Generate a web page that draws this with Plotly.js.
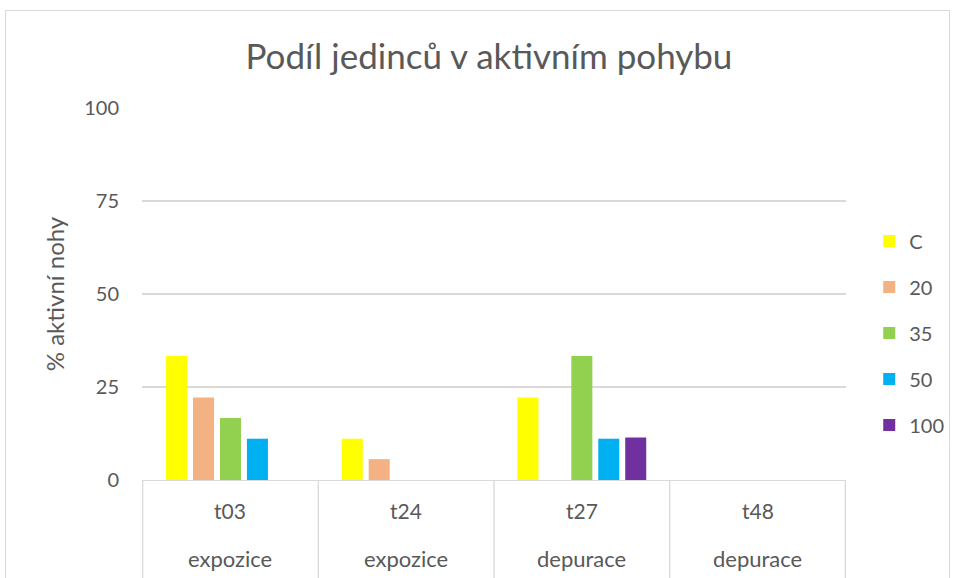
<!DOCTYPE html>
<html><head><meta charset="utf-8">
<script src="https://cdn.plot.ly/plotly-3.0.1.min.js"></script>
<style>
html,body{margin:0;padding:0;background:#fff;}
#frame{position:absolute;left:5px;top:10px;width:945px;height:580px;border:1px solid #d9d9d9;box-sizing:border-box;}
#chart{position:absolute;left:0;top:0;width:955px;height:578px;}
</style></head>
<body>
<div id="frame"></div>
<div id="chart"></div>
<script>
const timepoints = ["t03", "t24", "t27", "t48"];
const phases = ["expozice", "expozice", "depurace", "depurace"];
const seriesNames = ["C", "20", "35", "50", "100"];
const valC   = [33.3, 11.1, 22.2, 0];
const val20  = [22.2, 5.6, 0, 0];
const val35  = [16.7, 0, 33.3, 0];
const val50  = [11.1, 0, 11.1, 0];
const val100 = [0, 0, 11.4, 0];
const colors = ["#ffff00", "#f4b183", "#92d050", "#00b0f0", "#7030a0"];
const yTicks = [0, 25, 50, 75, 100];

const values = [valC, val20, val35, val50, val100];
const font = "Lato, 'Open Sans', sans-serif";
const txt = "#595959";

const traces = seriesNames.map((n, i) => ({
  type: "bar", name: n, x: timepoints, y: values[i],
  marker: {color: colors[i]}, legendgroup: "g" + i
}));

const shapes = [];
for (let k = 0; k <= timepoints.length; k++) {
  shapes.push({type: "line", xref: "x", yref: "paper", x0: k - 0.5, x1: k - 0.5,
    y0: 0, y1: -0.28, line: {color: "#d9d9d9", width: 1.3}});
}

const annotations = [];
timepoints.forEach((t, i) => {
  annotations.push({xref: "x", yref: "paper", x: t, y: -0.083, yanchor: "middle", showarrow: false,
    text: t, font: {size: 21, color: txt, family: font}});
  annotations.push({xref: "x", yref: "paper", x: t, y: -0.21, yanchor: "middle", showarrow: false,
    text: phases[i], font: {size: 22, color: txt, family: font}});
});

const layout = {
  width: 955, height: 578,
  margin: {l: 142, r: 109, t: 108, b: 98, autoexpand: false},
  paper_bgcolor: "rgba(0,0,0,0)", plot_bgcolor: "rgba(0,0,0,0)",
  font: {family: font, color: txt},
  title: {text: "Podíl jedinců v aktivním pohybu", font: {size: 35, color: txt, family: font},
    x: 0.512, xanchor: "center", y: 0.902, yanchor: "middle"},
  barmode: "group", bargap: 0.233, bargroupgap: 0.22,
  xaxis: {type: "category", showgrid: false, showline: true, linecolor: "#d9d9d9", linewidth: 1.3,
    ticks: "", showticklabels: false, fixedrange: true},
  yaxis: {range: [0, 100], tickvals: yTicks, ticktext: yTicks.map(String),
    showgrid: true, gridcolor: "#d9d9d9", gridwidth: 1.3, zeroline: false, showline: false,
    ticks: "", tickfont: {size: 20, color: txt, family: font}, ticklabelstandoff: 22,
    title: {text: "% aktivní nohy", font: {size: 24, color: txt, family: font}, standoff: 12}, fixedrange: true},
  legend: {x: 1.033, xanchor: "left", y: 0.395, yanchor: "middle", font: {size: 20, color: txt, family: font},
    tracegroupgap: 17, traceorder: "grouped", bgcolor: "rgba(0,0,0,0)"},
  shapes: shapes,
  annotations: annotations
};

Plotly.newPlot("chart", traces, layout, {displayModeBar: false, staticPlot: true});
</script>
</body></html>
